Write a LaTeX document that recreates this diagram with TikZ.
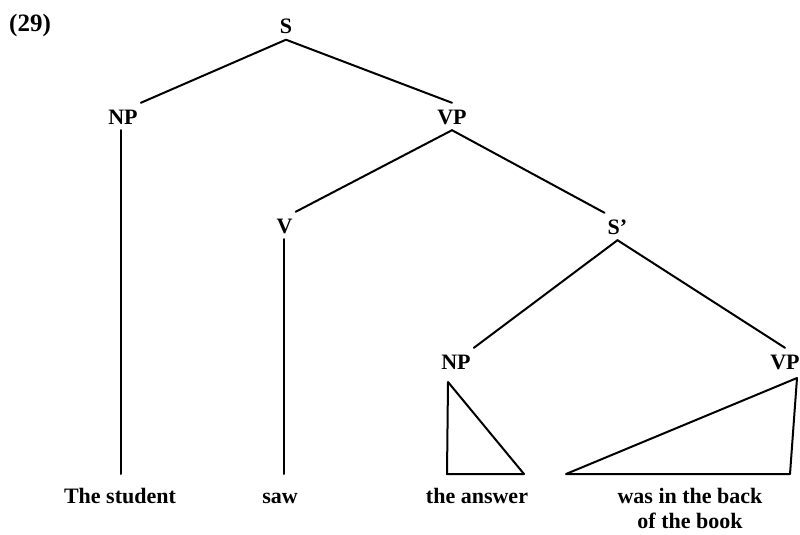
\documentclass[tikz,border=0pt]{standalone}
\usepackage{fontspec}
\setmainfont{Liberation Serif}
\begin{document}
\begin{tikzpicture}[x=1pt,y=-1pt,
  lab/.style={font=\bfseries\fontsize{22}{25}\selectfont, inner xsep=3pt, inner ysep=6pt, text height=15pt, text depth=0pt},
  leaf/.style={font=\bfseries\fontsize{22}{25}\selectfont, inner sep=0pt, anchor=base, align=center},
  branch/.style={line width=2pt, line cap=round, line join=round}]
\useasboundingbox (0,0) rectangle (800,535);
% labels
\node[lab, font=\bfseries\fontsize{25}{28}\selectfont] (ex) at (30,24.5) {(29)};
\node[lab] (S) at (286,26) {S};
\node[lab] (NP) at (123,116.5) {NP};
\node[lab] (VP) at (452,116.5) {VP};
\node[lab] (V) at (284.5,225.5) {V};
\node[lab] (Sb) at (617.5,226.5) {S'};
\node[lab] (NPb) at (456,361.5) {NP};
\node[lab] (VPb) at (785,361.5) {VP};
% leaves
\node[leaf] (student) at (120,503) {The student};
\node[leaf] (saw) at (280,503) {saw};
\node[leaf] (answer) at (477,503) {the answer};
\node[leaf] (back) at (690,528) {was in the back\\of the book};
% feet of branches and roofs
\coordinate (npfoot) at (121,474);
\coordinate (vfoot) at (283.5,474);
\coordinate (npa) at (448,382);
\coordinate (npl) at (447,474);
\coordinate (npr) at (524,474);
\coordinate (vpa) at (797,378);
\coordinate (vpr) at (790,474);
\coordinate (vpl) at (566,474);
% branches
\draw[branch] (S.south) -- (NP.north east);
\draw[branch] (S.south) -- (VP.north);
\draw[branch] (NP.south -| npfoot) -- (npfoot);
\draw[branch] (VP.south) -- (V.north east);
\draw[branch] (VP.south) -- (Sb.north west);
\draw[branch] (V.south -| vfoot) -- (vfoot);
\draw[branch] (Sb.south) -- (NPb.north east);
\draw[branch] (Sb.south) -- (VPb.north);
\draw[branch] (npa) -- (npl) -- (npr) -- cycle;
\draw[branch] (vpa) -- (vpr) -- (vpl) -- cycle;
\end{tikzpicture}
\end{document}
